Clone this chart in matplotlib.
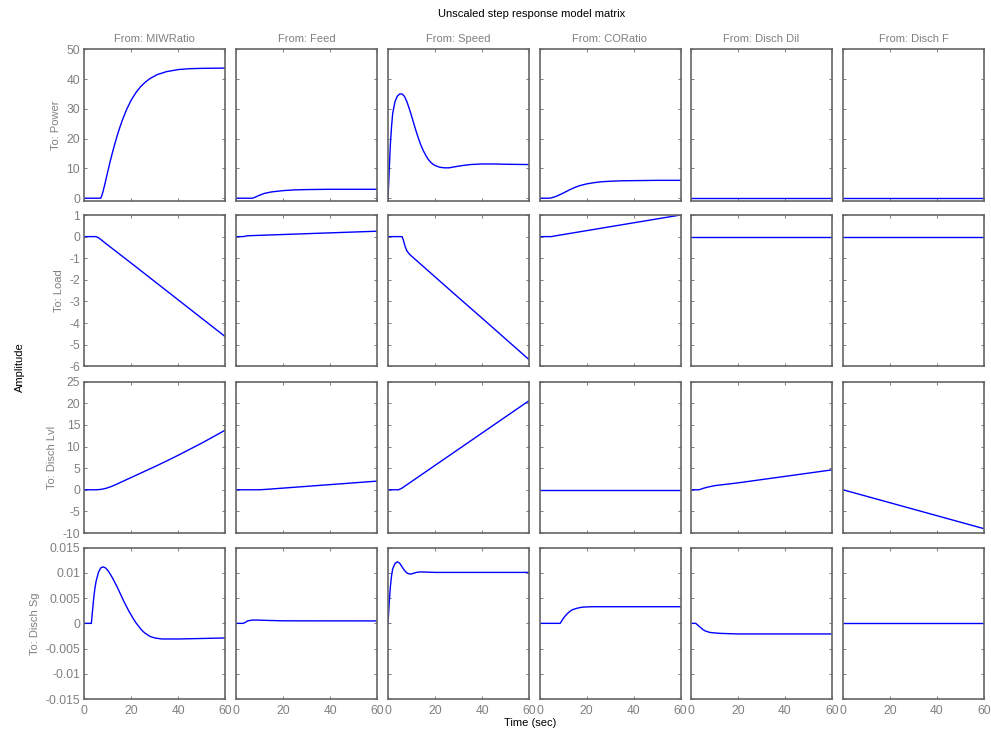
import matplotlib
matplotlib.use("Agg")
import matplotlib.pyplot as plt

plt.rcParams['font.family'] = ['Liberation Sans', 'DejaVu Sans']

inputs = ["MIWRatio", "Feed", "Speed", "CORatio", "Disch Dil", "Disch F"]
outputs = ["Power", "Load", "Disch Lvl", "Disch Sg"]

# Row 1: To Power
t_p1 = [0, 7, 7.5, 8, 9, 10, 11, 12, 13, 14, 15, 16, 18, 20, 22, 24, 26, 28, 31, 35, 40, 45, 50, 60]
y_p1 = [0, 0, 1.0, 2.3, 5.6, 9.0, 12.3, 15.4, 18.3, 21.0, 23.5, 25.8, 29.8, 33.0, 35.5, 37.5, 39.0, 40.2, 41.5, 42.5, 43.2, 43.5, 43.6, 43.7]
t_p2 = [0, 7, 8, 10, 12, 15, 20, 25, 30, 40, 60]
y_p2 = [0, 0, 0.3, 1.0, 1.6, 2.1, 2.55, 2.8, 2.9, 3.0, 3.0]
t_p3 = [0, 0.5, 1, 1.5, 2, 3, 4, 5, 6, 7, 8, 9, 10, 11, 12, 13, 14, 15, 16, 17, 18, 19, 20, 22, 24, 26, 28, 31, 35, 40, 45, 50, 60]
y_p3 = [0, 9, 18, 24, 28.5, 32.5, 34.3, 35, 35, 34.2, 32.5, 30.2, 27.7, 25, 22.4, 20, 17.8, 16, 14.5, 13.2, 12.2, 11.5, 11, 10.4, 10.2, 10.2, 10.5, 10.9, 11.3, 11.5, 11.5, 11.4, 11.3]
t_p4 = [0, 4, 5, 7, 9, 11, 13, 15, 17, 20, 23, 26, 30, 35, 40, 50, 60]
y_p4 = [0, 0, 0.1, 0.6, 1.3, 2.1, 2.9, 3.6, 4.2, 4.8, 5.2, 5.5, 5.7, 5.85, 5.9, 6.0, 6.0]
t_p5 = [0, 60]
y_p5 = [0, 0]
t_p6 = [0, 60]
y_p6 = [0, 0]

# Row 2: To Load
t_l1 = [0, 5, 6, 7, 8, 10, 15, 20, 30, 40, 50, 60]
y_l1 = [0, 0, -0.05, -0.13, -0.22, -0.39, -0.81, -1.23, -2.08, -2.93, -3.78, -4.63]
t_l2 = [0, 3, 5, 60]
y_l2 = [0, 0, 0.04, 0.25]
t_l3 = [0, 6, 6.5, 7, 7.5, 8, 9, 10, 20, 30, 40, 50, 60]
y_l3 = [0, 0, -0.15, -0.35, -0.52, -0.65, -0.8, -0.9, -1.86, -2.82, -3.77, -4.73, -5.69]
t_l4 = [0, 5, 7, 60]
y_l4 = [0, 0, 0.04, 1.0]
t_l5 = [0, 60]
y_l5 = [0, 0]
t_l6 = [0, 60]
y_l6 = [0, 0]

# Row 3: To Disch Lvl
t_d1 = [0, 5, 7, 9, 11, 12, 14, 16, 18, 20, 23, 26, 30, 35, 40, 45, 50, 55, 60]
y_d1 = [0, 0, 0.08, 0.3, 0.65, 0.87, 1.35, 1.85, 2.35, 2.85, 3.6, 4.35, 5.35, 6.65, 8.0, 9.4, 10.8, 12.3, 13.8]
t_d2 = [0, 10, 13, 60]
y_d2 = [0, 0, 0.1, 2.0]
t_d3 = [0, 4.5, 6, 60]
y_d3 = [0, 0, 0.4, 20.6]
t_d4 = [0, 60]
y_d4 = [0, 0]
t_d5 = [0, 3.5, 5, 7, 10, 20, 30, 40, 50, 60]
y_d5 = [0, 0, 0.3, 0.6, 0.95, 1.6, 2.35, 3.1, 3.85, 4.6]
t_d6 = [0, 60]
y_d6 = [0, -9.0]

# Row 4: To Disch Sg
t_s1 = [0, 3, 3.5, 4, 4.5, 5, 6, 7, 8, 9, 10, 11, 12, 13, 14, 15, 16, 17, 18, 19, 20, 21, 22, 23, 24, 25, 26, 27, 28, 30, 33, 36, 40, 50, 60]
y_s1 = [0, 0, 0.0025, 0.005, 0.0069, 0.0083, 0.0101, 0.011, 0.0112, 0.011, 0.0105, 0.0098, 0.009, 0.0081, 0.0072, 0.0062, 0.0052, 0.0042, 0.0033, 0.0024, 0.0016, 0.0008, 0.0001, -0.0005, -0.0011, -0.0016, -0.002, -0.0023, -0.0026, -0.0029, -0.0031, -0.0031, -0.0031, -0.003, -0.0029]
t_s2 = [0, 3, 4, 5, 7, 9, 12, 20, 60]
y_s2 = [0, 0, 0.0002, 0.0005, 0.00065, 0.00065, 0.0006, 0.0005, 0.00048]
t_s3 = [0, 0.5, 1, 1.5, 2, 3, 4, 5, 6, 7, 8, 9, 10, 12, 14, 20, 60]
y_s3 = [0, 0.004, 0.0072, 0.0094, 0.0108, 0.0119, 0.0122, 0.0119, 0.0112, 0.0105, 0.01, 0.0098, 0.0098, 0.0101, 0.0102, 0.0101, 0.0101]
t_s4 = [0, 8.8, 10, 11, 12, 13, 14, 16, 18, 22, 60]
y_s4 = [0, 0, 0.0009, 0.0015, 0.002, 0.0024, 0.0027, 0.003, 0.0032, 0.0033, 0.0033]
t_s5 = [0, 2, 3, 4, 5, 6, 8, 10, 13, 20, 60]
y_s5 = [0, 0, -0.0004, -0.0008, -0.0012, -0.0015, -0.0018, -0.0019, -0.002, -0.0021, -0.0021]
t_s6 = [0, 60]
y_s6 = [0, 0]

series = [
    [(t_p1, y_p1), (t_p2, y_p2), (t_p3, y_p3), (t_p4, y_p4), (t_p5, y_p5), (t_p6, y_p6)],
    [(t_l1, y_l1), (t_l2, y_l2), (t_l3, y_l3), (t_l4, y_l4), (t_l5, y_l5), (t_l6, y_l6)],
    [(t_d1, y_d1), (t_d2, y_d2), (t_d3, y_d3), (t_d4, y_d4), (t_d5, y_d5), (t_d6, y_d6)],
    [(t_s1, y_s1), (t_s2, y_s2), (t_s3, y_s3), (t_s4, y_s4), (t_s5, y_s5), (t_s6, y_s6)],
]

row_ylims = [(-0.8, 50), (-6, 1), (-10, 25), (-0.015, 0.015)]
row_yticks = [
    [0, 10, 20, 30, 40, 50],
    [-6, -5, -4, -3, -2, -1, 0, 1],
    [-10, -5, 0, 5, 10, 15, 20, 25],
    [-0.015, -0.01, -0.005, 0, 0.005, 0.01, 0.015],
]
row_yticklabels = [
    ["0", "10", "20", "30", "40", "50"],
    ["-6", "-5", "-4", "-3", "-2", "-1", "0", "1"],
    ["-10", "-5", "0", "5", "10", "15", "20", "25"],
    ["-0.015", "-0.01", "-0.005", "0", "0.005", "0.01", "0.015"],
]
xticks = [0, 20, 40, 60]

W, H = 991, 735
fig = plt.figure(figsize=(W / 100, H / 100), dpi=100)

col_left = [84.3, 236, 388, 539.5, 691, 843]
row_top = [49.3, 215, 381.7, 547.7]
aw, ah = 141, 151.3

edge_c = '#666666'
tick_c = '#808080'
fs = 8
tfs = 8.7

for r in range(4):
    for c in range(6):
        x0 = col_left[c] / W
        y0 = 1 - (row_top[r] + ah) / H
        ax = fig.add_axes([x0, y0, aw / W, ah / H])
        t, y = series[r][c]
        ax.plot(t, y, color='#0000ff', lw=1.0)
        ax.set_xlim(0, 60)
        ax.set_ylim(*row_ylims[r])
        ax.set_xticks(xticks)
        ax.set_yticks(row_yticks[r])
        ax.tick_params(direction='in', length=2.5, width=0.6, colors=edge_c,
                       labelcolor=tick_c, labelsize=tfs, top=True, right=True)
        ax.tick_params(axis='x', pad=4)
        ax.tick_params(axis='y', pad=3)
        for s in ax.spines.values():
            s.set_color(edge_c)
            s.set_linewidth(1.2)
        if c == 0:
            ax.set_yticklabels(row_yticklabels[r])
            ax.set_ylabel("To: " + outputs[r], color=tick_c, fontsize=fs, labelpad=4)
        else:
            ax.set_yticklabels([])
        if r == 3:
            ax.set_xticklabels([str(v) for v in xticks])
        else:
            ax.set_xticklabels([])
        if r == 0:
            ax.set_title("From: " + inputs[c], color=tick_c, fontsize=fs, pad=5)

fig.text(532 / W, 1 - 14 / H, "Unscaled step response model matrix", ha='center', va='center', fontsize=fs, color='black')
fig.text(20 / W, 1 - 367 / H, "Amplitude", ha='center', va='center', rotation=90, fontsize=fs, color='black')
fig.text(530 / W, 1 - 723 / H, "Time (sec)", ha='center', va='center', fontsize=fs, color='black')

fig.savefig("out.png", dpi=100, facecolor='white')
